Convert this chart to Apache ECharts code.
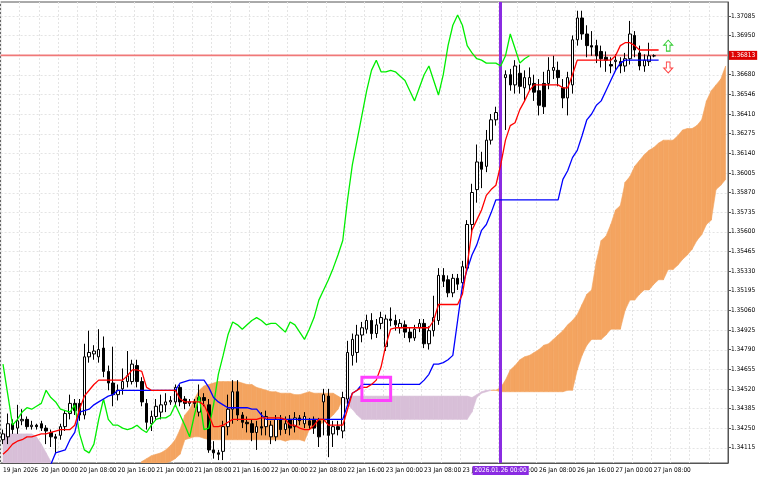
<!DOCTYPE html>
<html><head><meta charset="utf-8">
<script src="https://cdn.jsdelivr.net/npm/echarts@6/dist/echarts.min.js"></script>
<style>html,body{margin:0;padding:0;background:#fff}#c{width:768px;height:480px}</style>
</head><body><div id="c"></div>
<script>
// candles: [open, close, low, high]
const candles = [
[1.3417,1.3421,1.3414,1.3424],[1.3419,1.3428,1.3414,1.3435],[1.3428,1.3424,1.3421,1.3431],[1.3425,1.3430,1.3421,1.3441],[1.3430,1.3431,1.3427,1.3438],
[1.3431,1.3426,1.3424,1.3433],[1.3426,1.3427,1.3424,1.3430],[1.3427,1.3426,1.3424,1.3428],[1.3428,1.3425,1.3423,1.3430],[1.3425,1.3423,1.3414,1.3427],
[1.3422,1.3419,1.3412,1.3424],[1.3419,1.3418,1.3407,1.3421],[1.3420,1.3426,1.3417,1.3428],[1.3426,1.3435,1.3423,1.3437],[1.3435,1.3442,1.3431,1.3448],
[1.3442,1.3437,1.3434,1.3445],[1.3442,1.3434,1.3430,1.3445],[1.3434,1.3474,1.3431,1.3483],[1.3474,1.3477,1.3470,1.3492],[1.3476,1.3478,1.3472,1.3482],
[1.3474,1.3479,1.3470,1.3493],[1.3480,1.3464,1.3460,1.3488],[1.3464,1.3456,1.3451,1.3468],[1.3456,1.3448,1.3440,1.3481],[1.3448,1.3451,1.3444,1.3455],
[1.3452,1.3457,1.3448,1.3466],[1.3457,1.3461,1.3453,1.3478],[1.3457,1.3469,1.3455,1.3472],[1.3468,1.3457,1.3453,1.3472],[1.3457,1.3443,1.3440,1.3460],
[1.3442,1.3429,1.3424,1.3445],[1.3428,1.3433,1.3423,1.3437],[1.3433,1.3440,1.3430,1.3445],[1.3436,1.3441,1.3431,1.3448],[1.3441,1.3443,1.3436,1.3449],
[1.3443,1.3444,1.3441,1.3447],[1.3443,1.3453,1.3440,1.3455],[1.3453,1.3443,1.3440,1.3455],[1.3445,1.3442,1.3438,1.3447],[1.3442,1.3443,1.3440,1.3445],
[1.3443,1.3442,1.3439,1.3445],[1.3436,1.3446,1.3433,1.3455],[1.3446,1.3444,1.3440,1.3449],[1.3441,1.3410,1.3408,1.3445],[1.3410,1.3408,1.3404,1.3416],
[1.3408,1.3407,1.3403,1.3410],[1.3409,1.3426,1.3403,1.3430],[1.3426,1.3438,1.3420,1.3448],[1.3438,1.3450,1.3428,1.3458],[1.3450,1.3434,1.3430,1.3458],
[1.3434,1.3429,1.3425,1.3436],[1.3429,1.3428,1.3422,1.3433],[1.3428,1.3422,1.3416,1.3431],[1.3422,1.3426,1.3410,1.3430],[1.3426,1.3425,1.3420,1.3436],
[1.3426,1.3433,1.3420,1.3437],[1.3419,1.3427,1.3414,1.3430],[1.3419,1.3431,1.3416,1.3434],[1.3431,1.3424,1.3420,1.3434],[1.3424,1.3428,1.3421,1.3433],
[1.3431,1.3425,1.3420,1.3434],[1.3426,1.3432,1.3422,1.3436],[1.3432,1.3430,1.3427,1.3434],[1.3428,1.3433,1.3425,1.3436],[1.3430,1.3427,1.3424,1.3432],
[1.3431,1.3425,1.3421,1.3433],[1.3430,1.3419,1.3412,1.3432],[1.3443,1.3448,1.3420,1.3452],[1.3447,1.3420,1.3405,1.3452],[1.3421,1.3426,1.3412,1.3430],
[1.3426,1.3424,1.3420,1.3430],[1.3423,1.3446,1.3418,1.3450],[1.3445,1.3477,1.3440,1.3485],[1.3475,1.3486,1.3468,1.3490],[1.3477,1.3489,1.3470,1.3496],
[1.3489,1.3494,1.3484,1.3498],[1.3493,1.3499,1.3490,1.3503],[1.3499,1.3490,1.3486,1.3504],[1.3490,1.3496,1.3487,1.3500],[1.3497,1.3501,1.3493,1.3505],
[1.3481,1.3500,1.3478,1.3503],[1.3500,1.3499,1.3495,1.3508],[1.3499,1.3496,1.3492,1.3503],[1.3494,1.3497,1.3490,1.3500],[1.3496,1.3491,1.3487,1.3499],
[1.3491,1.3487,1.3484,1.3494],[1.3487,1.3493,1.3485,1.3496],[1.3494,1.3497,1.3491,1.3500],[1.3497,1.3483,1.3480,1.3500],[1.3483,1.3492,1.3479,1.3495],
[1.3492,1.3501,1.3488,1.3516],[1.3499,1.3530,1.3496,1.3535],[1.3530,1.3526,1.3522,1.3535],[1.3527,1.3518,1.3515,1.3530],[1.3518,1.3528,1.3515,1.3531],
[1.3528,1.3524,1.3520,1.3531],[1.3525,1.3536,1.3521,1.3540],[1.3535,1.3565,1.3532,1.3568],[1.3565,1.3587,1.3558,1.3593],[1.3589,1.3608,1.3580,1.3620],
[1.3608,1.3603,1.3590,1.3615],[1.3605,1.3623,1.3601,1.3630],[1.3623,1.3637,1.3620,1.3641],[1.3637,1.3642,1.3633,1.3646],[1.3678,1.3666,1.3650,1.3680],
[1.3666,1.3668,1.3630,1.3671],[1.3668,1.3661,1.3657,1.3672],[1.3661,1.3674,1.3655,1.3678],[1.3669,1.3660,1.3655,1.3675],[1.3659,1.3666,1.3650,1.3671],
[1.3661,1.3666,1.3657,1.3673],[1.3662,1.3656,1.3650,1.3668],[1.3657,1.3647,1.3640,1.3665],[1.3662,1.3646,1.3641,1.3670],[1.3662,1.3671,1.3658,1.3680],
[1.3671,1.3673,1.3665,1.3681],[1.3671,1.3666,1.3660,1.3677],[1.3659,1.3652,1.3645,1.3665],[1.3652,1.3666,1.3640,1.3670],[1.3661,1.3692,1.3655,1.3695],
[1.3692,1.3707,1.3688,1.3712],[1.3707,1.3696,1.3692,1.3712],[1.3696,1.3688,1.3680,1.3702],[1.3688,1.3687,1.3681,1.3698],[1.3688,1.3681,1.3676,1.3692],
[1.3684,1.3679,1.3673,1.3688],[1.3680,1.3678,1.3670,1.3684],[1.3675,1.3674,1.3669,1.3680],[1.3677,1.3678,1.3671,1.3682],[1.3677,1.3674,1.3669,1.3680],
[1.3674,1.3679,1.3670,1.3683],[1.3679,1.3696,1.3675,1.3705],[1.3695,1.3685,1.3680,1.3698],[1.3683,1.3674,1.3671,1.3688],[1.3674,1.3678,1.3670,1.3682],
[1.3677,1.3681,1.3674,1.3690],[1.3681,1.3681,1.3680,1.3682]
];
const tenkan = [1.3407,1.3410,1.3414,1.3416,1.3417,1.3419,1.3419,1.3420,1.3421,1.3421,
1.3422,1.3423,1.3424,1.3424,1.3424,1.3427,1.3438,1.3447,1.3451,1.3455,
1.3458,1.3458,1.3458,1.3458,1.3458,1.3458,1.3461,1.3465,1.3465,1.3464,
1.3453,1.3451,1.3451,1.3451,1.3451,1.3451,1.3451,1.3445,1.3443,1.3443,
1.3443,1.3443,1.3441,1.3434,1.3426,1.3426,1.3427,1.3429,1.3431,1.3431,
1.3431,1.3431,1.3431,1.3431,1.3432,1.3432,1.3432,1.3432,1.3432,1.3431,
1.3427,1.3427,1.3425,1.3424,1.3424,1.3427,1.3431,1.3431,1.3427,1.3427,
1.3427,1.3427,1.3438,1.3449,1.3451,1.3453,1.3453,1.3455,1.3458,1.3467,
1.3482,1.3493,1.3494,1.3494,1.3494,1.3494,1.3494,1.3494,1.3494,1.3494,
1.3499,1.3510,1.3510,1.3510,1.3510,1.3510,1.3517,1.3537,1.3561,1.3568,
1.3575,1.3585,1.3589,1.3592,1.3606,1.3623,1.3633,1.3635,1.3644,1.3650,
1.3657,1.3661,1.3661,1.3661,1.3661,1.3661,1.3661,1.3659,1.3659,1.3668,
1.3678,1.3678,1.3678,1.3678,1.3678,1.3678,1.3678,1.3678,1.3681,1.3688,
1.3690,1.3690,1.3688,1.3685,1.3685,1.3685,1.3685,1.3685];
const kijun = [1.3390,1.3390,1.3390,1.3390,1.3390,1.3390,1.3390,1.3390,1.3390,1.3390,
1.3400,1.3408,1.3409,1.3410,1.3417,1.3422,1.3436,1.3437,1.3438,1.3441,
1.3443,1.3445,1.3447,1.3448,1.3451,1.3451,1.3451,1.3451,1.3451,1.3451,
1.3451,1.3451,1.3451,1.3451,1.3451,1.3451,1.3451,1.3456,1.3457,1.3458,
1.3458,1.3458,1.3458,1.3453,1.3446,1.3443,1.3441,1.3439,1.3439,1.3439,
1.3439,1.3439,1.3438,1.3438,1.3434,1.3431,1.3431,1.3431,1.3431,1.3431,
1.3431,1.3431,1.3431,1.3431,1.3431,1.3431,1.3431,1.3431,1.3431,1.3431,
1.3431,1.3431,1.3441,1.3449,1.3451,1.3455,1.3455,1.3455,1.3455,1.3455,
1.3455,1.3455,1.3455,1.3455,1.3455,1.3455,1.3455,1.3455,1.3458,1.3462,
1.3469,1.3469,1.3470,1.3472,1.3475,1.3499,1.3523,1.3534,1.3544,1.3551,
1.3561,1.3565,1.3573,1.3582,1.3582,1.3582,1.3582,1.3582,1.3582,1.3582,
1.3582,1.3582,1.3582,1.3582,1.3582,1.3582,1.3582,1.3596,1.3602,1.3611,
1.3616,1.3626,1.3637,1.3641,1.3647,1.3650,1.3657,1.3664,1.3671,1.3676,
1.3678,1.3678,1.3678,1.3678,1.3678,1.3678,1.3678,1.3678];
const chikou = [1.3469,1.3448,1.3427,1.3431,1.3436,1.3439,1.3438,1.3440,1.3442,1.3451,
1.3446,1.3443,1.3438,1.3437,1.3436,1.3441,1.3421,1.3410,1.3408,1.3414,
1.3431,1.3445,1.3431,1.3427,1.3427,1.3425,1.3424,1.3425,1.3427,1.3424,
1.3422,1.3427,1.3431,1.3432,1.3432,1.3434,1.3441,1.3434,1.3427,1.3419,
1.3434,1.3447,1.3424,1.3425,1.3441,1.3462,1.3475,1.3489,1.3498,1.3496,
1.3493,1.3496,1.3499,1.3501,1.3499,1.3496,1.3497,1.3497,1.3494,1.3491,
1.3498,1.3496,1.3491,1.3486,1.3493,1.3501,1.3513,1.3520,1.3527,1.3535,
1.3544,1.3554,1.3582,1.3606,1.3623,1.3640,1.3657,1.3671,1.3678,1.3670,
1.3670,1.3671,1.3670,1.3667,1.3664,1.3657,1.3650,1.3659,1.3668,1.3674,
1.3664,1.3654,1.3668,1.3688,1.3702,1.3709,1.3702,1.3688,1.3683,1.3679,
1.3678,1.3676,1.3676,1.3676,1.3674,1.3681,1.3696,1.3686,1.3676,1.3679,
1.3681];
const spanA = [1.3394,1.3394,1.3394,1.3394,1.3394,1.3394,1.3394,1.3394,1.3394,1.3394,
1.3394,1.3394,1.3394,1.3394,1.3394,1.3394,1.3394,1.3394,1.3394,1.3394,
1.3394,1.3394,1.3394,1.3394,1.3394,1.3394,1.3394,1.3394,1.3394,1.3402,
1.3404,1.3406,1.3407,1.3408,1.3410,1.3413,1.3417,1.3424,1.3434,1.3438,
1.3445,1.3451,1.3454,1.3455,1.3456,1.3457,1.3457,1.3457,1.3457,1.3457,
1.3456,1.3455,1.3455,1.3453,1.3452,1.3451,1.3450,1.3450,1.3449,1.3449,
1.3449,1.3448,1.3448,1.3449,1.3450,1.3449,1.3449,1.3449,1.3449,1.3449,
1.3447,1.3445,1.3441,1.3438,1.3434,1.3431,1.3431,1.3431,1.3431,1.3431,
1.3431,1.3431,1.3431,1.3431,1.3431,1.3431,1.3431,1.3431,1.3431,1.3431,
1.3431,1.3431,1.3431,1.3431,1.3431,1.3431,1.3431,1.3431,1.3436,1.3446,
1.3449,1.3450,1.3451,1.3451,1.3453,1.3458,1.3465,1.3468,1.3472,1.3474,
1.3475,1.3477,1.3479,1.3482,1.3483,1.3486,1.3489,1.3492,1.3496,1.3499,
1.3503,1.3510,1.3517,1.3520,1.3540,1.3554,1.3557,1.3565,1.3575,1.3578,
1.3594,1.3598,1.3605,1.3609,1.3613,1.3616,1.3618,1.3621,1.3623,1.3623,
1.3623,1.3626,1.3630,1.3631,1.3631,1.3633,1.3637,1.3650,1.3657,1.3661,
1.3665,1.3674];
const spanB = [1.3421,1.3421,1.3421,1.3421,1.3421,1.3421,1.3421,1.3419,1.3414,1.3408,
1.3402,1.3398,1.3398,1.3398,1.3398,1.3398,1.3398,1.3398,1.3398,1.3398,
1.3398,1.3398,1.3398,1.3398,1.3398,1.3398,1.3398,1.3398,1.3398,1.3396,
1.3396,1.3397,1.3398,1.3400,1.3401,1.3402,1.3404,1.3407,1.3417,1.3418,
1.3419,1.3419,1.3418,1.3417,1.3417,1.3417,1.3417,1.3417,1.3417,1.3417,
1.3417,1.3417,1.3417,1.3417,1.3417,1.3417,1.3417,1.3417,1.3417,1.3416,
1.3417,1.3417,1.3417,1.3416,1.3424,1.3425,1.3427,1.3429,1.3431,1.3434,
1.3438,1.3445,1.3446,1.3447,1.3447,1.3447,1.3447,1.3447,1.3447,1.3447,
1.3447,1.3447,1.3447,1.3447,1.3447,1.3447,1.3447,1.3447,1.3447,1.3447,
1.3447,1.3447,1.3447,1.3447,1.3447,1.3447,1.3447,1.3447,1.3446,1.3448,
1.3450,1.3451,1.3451,1.3451,1.3450,1.3450,1.3450,1.3450,1.3450,1.3450,
1.3450,1.3450,1.3450,1.3450,1.3450,1.3450,1.3450,1.3450,1.3451,1.3451,
1.3465,1.3475,1.3482,1.3486,1.3486,1.3486,1.3489,1.3493,1.3493,1.3493,
1.3506,1.3513,1.3513,1.3517,1.3520,1.3520,1.3524,1.3527,1.3527,1.3534,
1.3534,1.3537,1.3541,1.3544,1.3548,1.3554,1.3558,1.3565,1.3568,1.3589,
1.3592,1.3596];
const yTicks = [1.34115,1.34250,1.34385,1.34520,1.34655,1.34790,1.34925,1.35060,1.35195,1.35330,1.35465,1.35600,1.35735,1.35870,1.36005,1.36140,1.36275,1.36410,1.36546,1.36680,1.36950,1.37085];
const currentPrice = 1.36813;
const crossIndex = 104;
const crossLabel = '2026.01.26 00:00';
const lastCandle = 136;
// signal box: [from index, to index, low price, high price]
const signalBox = [74.8, 80.9, 1.3444, 1.3460];

const cats=[];
(function(){
  let d=19,h=16;
  while(cats.length<152){
    cats.push(d+' Jan '+String(h).padStart(2,'0')+':00');
    h++; if(h===24){h=0;d++; if(d===24)d=26;}
  }
})();

const chart = echarts.init(document.getElementById('c'));
const cloud = [];
for(let i=0;i<spanA.length-1;i++) cloud.push([i,spanA[i],spanB[i],spanA[i+1],spanB[i+1]]);
const F='"Liberation Sans Narrow", "DejaVu Sans Condensed", sans-serif';
chart.setOption({
  animation:false,
  backgroundColor:'#fff',
  grid:{left:0,right:40,top:2,bottom:17,show:true,borderColor:'#555',borderWidth:1},
  xAxis:{type:'category',data:cats,boundaryGap:true,
    axisLine:{lineStyle:{color:'#555'}},
    axisTick:{interval:(i)=>i%8===0 && i<=lastCandle,length:3,lineStyle:{color:'#555'}},
    axisLabel:{interval:(i)=>i%8===0 && i<=lastCandle,fontSize:6.5,fontFamily:F,color:'#000',align:'left',margin:4,
      formatter:(v,i)=> i===0?'19 Jan 2026':v},
    splitLine:{show:true,interval:3,lineStyle:{color:'#e4e4e4',type:[2,2]}}},
  yAxis:{type:'value',position:'right',min:1.3401,max:1.3718,scale:true,
    axisLine:{show:true,lineStyle:{color:'#555'}},
    axisTick:{show:true,customValues:yTicks,length:3,lineStyle:{color:'#555'}},
    axisLabel:{customValues:yTicks,fontSize:6.5,fontFamily:F,color:'#000',margin:3,formatter:v=>v.toFixed(5)},
    splitLine:{show:false}},
  series:[
    {type:'custom',z:0,silent:true,data:yTicks.map(v=>[0,v]),
     renderItem:(p,api)=>{
       const cs=p.coordSys, y=Math.round(api.coord([0,api.value(1)])[1])+0.5;
       return {type:'line',shape:{x1:cs.x,y1:y,x2:cs.x+cs.width,y2:y},style:{stroke:'#e4e4e4',lineWidth:1,lineDash:[2,2]}};
     }},
    {type:'custom',clip:true,z:2,data:cloud,
     renderItem:(p,api)=>{
       const i=api.value(0),a=api.value(1),b=api.value(2),a2=api.value(3),b2=api.value(4);
       const pts=[api.coord([i,a]),api.coord([i+1,a2]),api.coord([i+1,b2]),api.coord([i,b])];
       const col=(a+a2)>=(b+b2)?'#f4a460':'#d8bfd8';
       return {type:'polygon',shape:{points:pts},style:{fill:col,stroke:col,lineWidth:0.6}};
     }},
    {type:'custom',z:3,silent:true,data:[[0,currentPrice]],
     renderItem:(p,api)=>{
       const cs=p.coordSys, y=api.coord([0,api.value(1)])[1];
       return {type:'group',children:[
         {type:'line',shape:{x1:cs.x,y1:y,x2:cs.x+cs.width,y2:y},style:{stroke:'#f07878',lineWidth:1.6,opacity:1}},
         {type:'text',x:cs.x+cs.width+1,y:y,style:{text:currentPrice.toFixed(5),fill:'#fff',backgroundColor:'#dd0000',
           font:'6.5px '+F,padding:[1,2],verticalAlign:'middle',align:'left'}}]};
     }},
    {type:'candlestick',z:4,data:candles,barWidth:3,
     itemStyle:{color:'#ffffff',color0:'#000000',borderColor:'#000000',borderColor0:'#000000',borderWidth:1},
     markPoint:{silent:true,label:{show:false},data:[
       {coord:[139,1.3688],symbol:'path://M5,0 L10,5 L7,5 L7,11 L3,11 L3,5 L0,5 Z',symbolSize:[9,11],
        itemStyle:{color:'#fff',borderColor:'#33cc33',borderWidth:1}},
       {coord:[139,1.3673],symbol:'path://M5,0 L10,5 L7,5 L7,11 L3,11 L3,5 L0,5 Z',symbolRotate:180,symbolSize:[9,11],
        itemStyle:{color:'#fff',borderColor:'#ff4444',borderWidth:1}}]}},
    {type:'line',z:5,data:chikou,symbol:'none',lineStyle:{color:'#00ee00',width:1.3}},
    {type:'line',z:6,data:kijun,symbol:'none',lineStyle:{color:'#0000ff',width:1.3}},
    {type:'line',z:7,data:tenkan,symbol:'none',lineStyle:{color:'#ff0000',width:1.3}},
    {type:'line',z:8,data:[],symbol:'none',
     markLine:{silent:true,symbol:'none',lineStyle:{color:'#8a2be2',width:3,type:'solid'},
       label:{show:true,position:'start',formatter:crossLabel,backgroundColor:'#8a2be2',color:'#fff',fontSize:6.5,fontFamily:F,padding:[1,2],distance:3},
       data:[[{coord:[crossIndex,1.3401]},{coord:[crossIndex,1.3718]}]]}},
    {type:'custom',z:9,clip:true,data:[signalBox],
     renderItem:(p,api)=>{
       const a=api.coord([api.value(0),api.value(3)]),b=api.coord([api.value(1),api.value(2)]);
       return {type:'rect',shape:{x:a[0],y:a[1],width:b[0]-a[0],height:b[1]-a[1]},
         style:{fill:'none',stroke:'#ff40ff',lineWidth:3}};
     }}
  ]
});
</script></body></html>
